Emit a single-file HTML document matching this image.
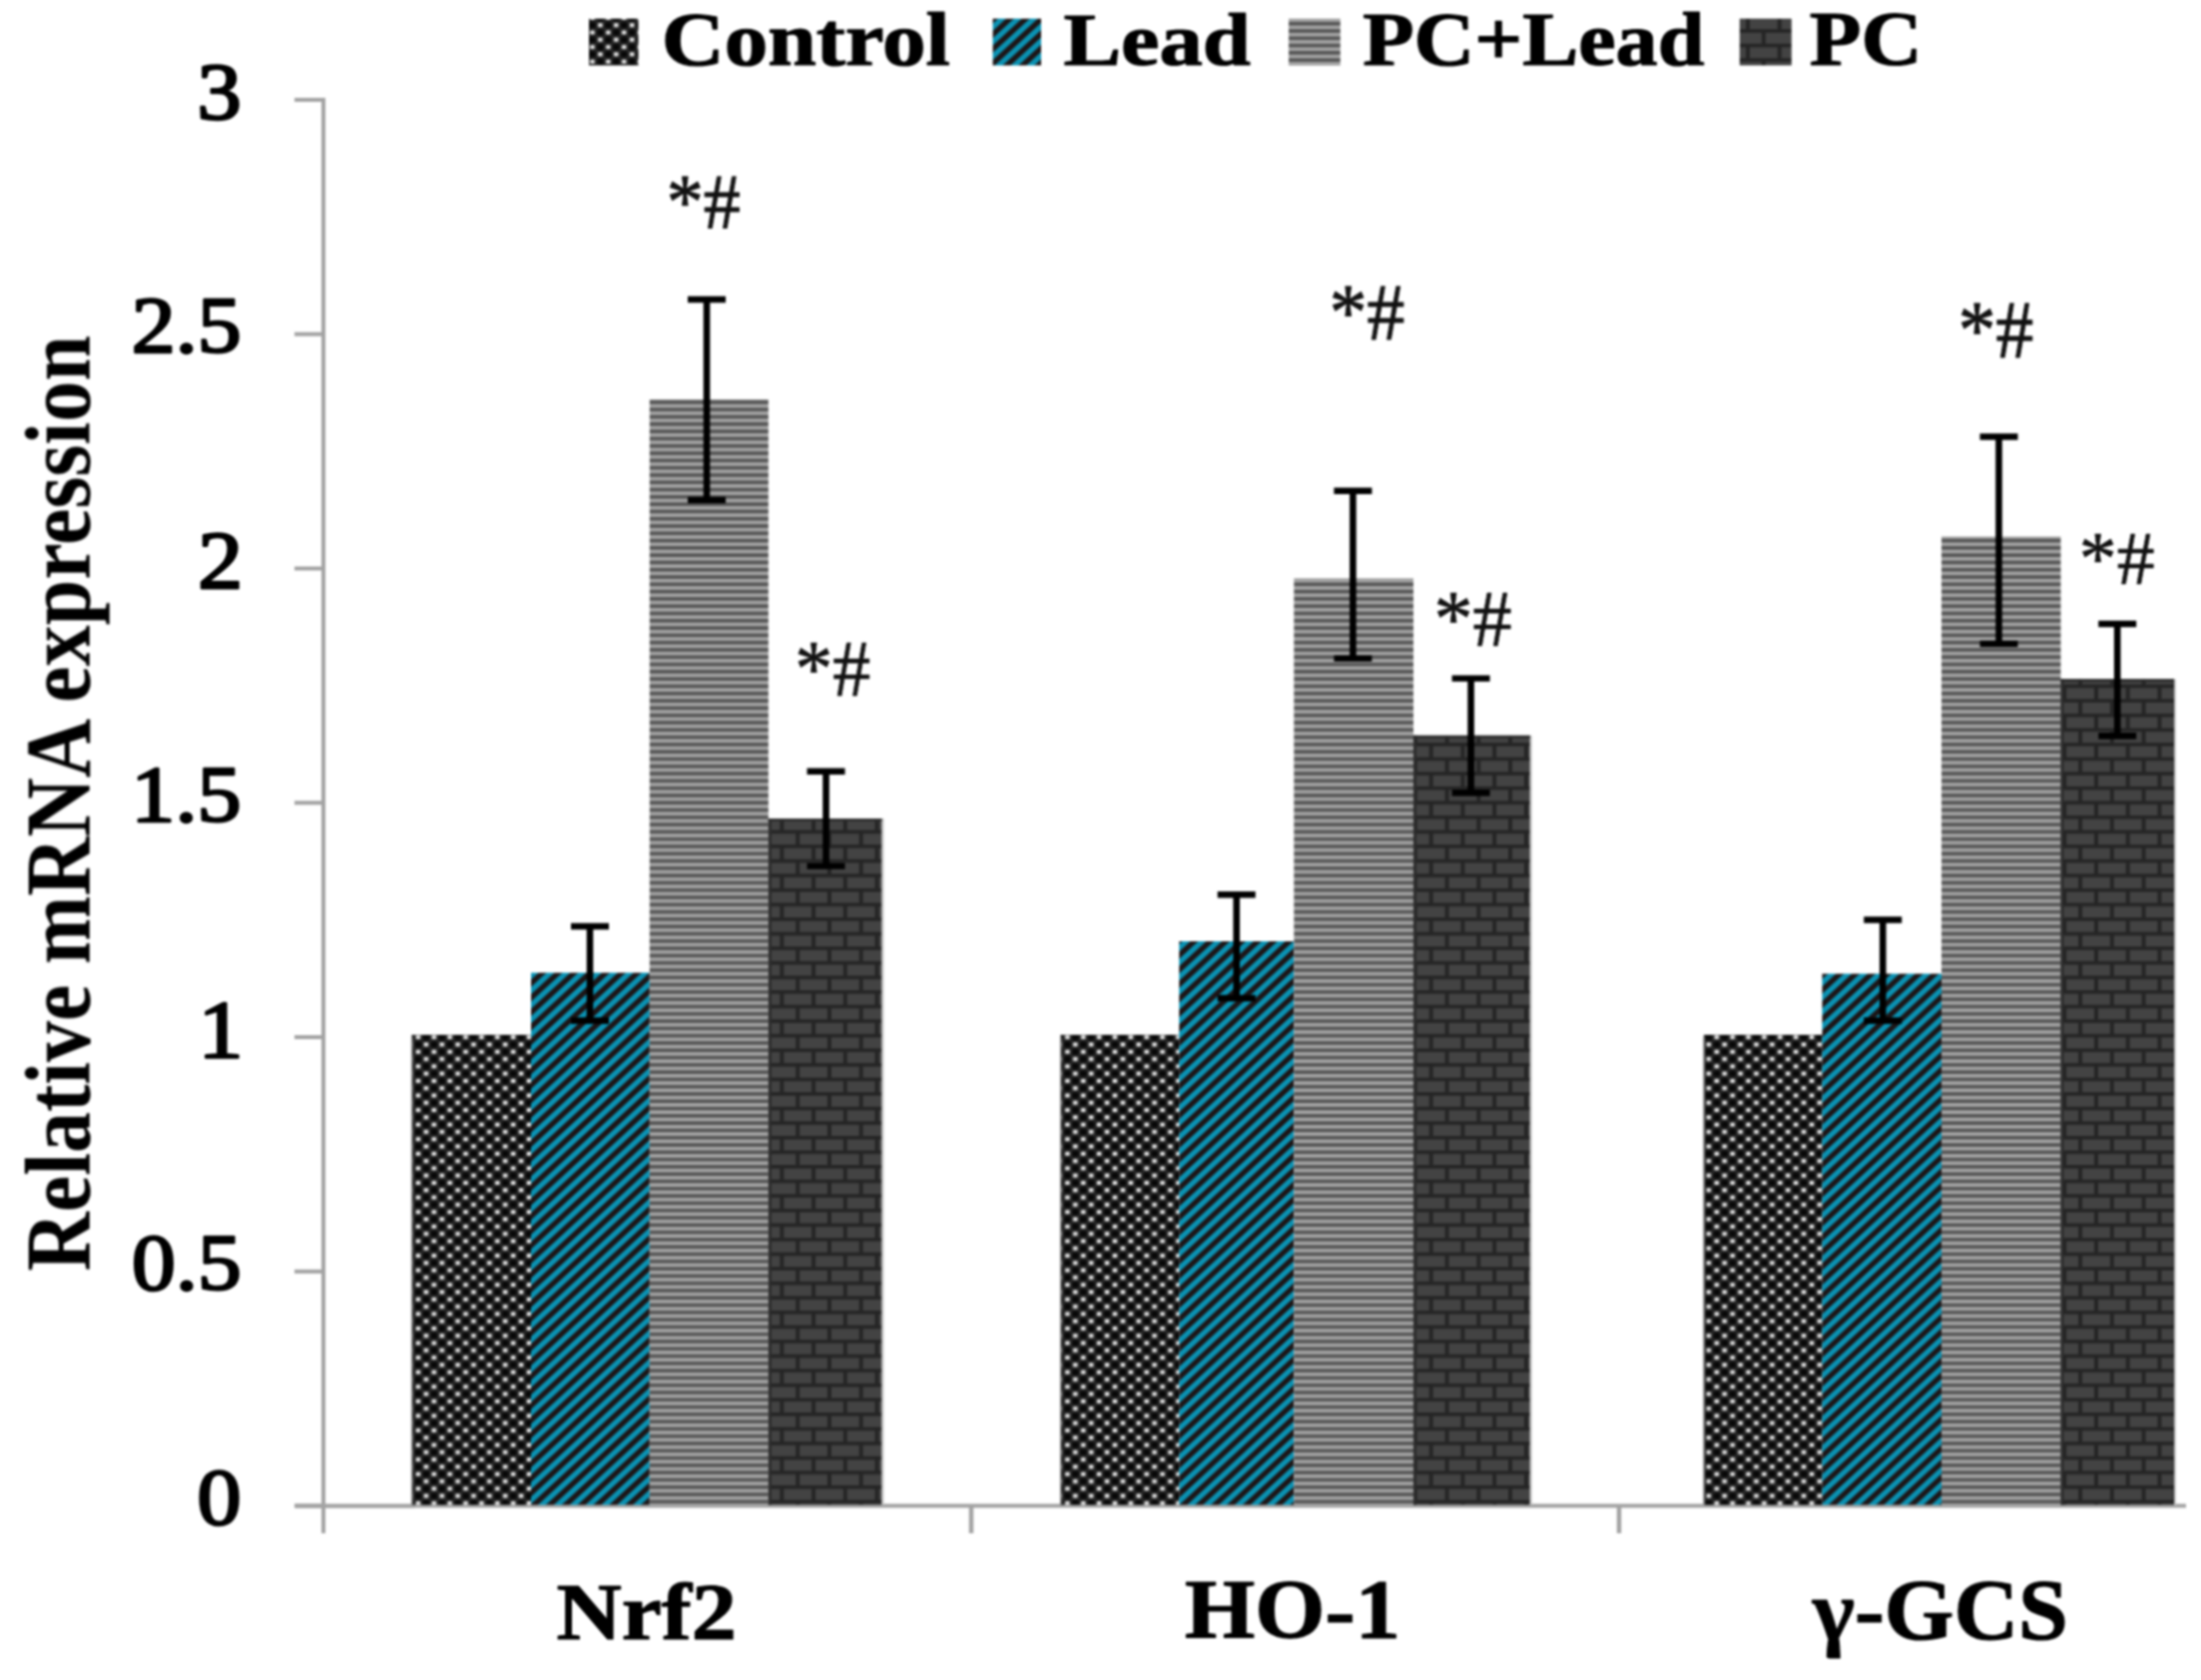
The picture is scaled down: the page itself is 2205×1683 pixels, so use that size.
<!DOCTYPE html>
<html><head><meta charset="utf-8"><title>Relative mRNA expression</title>
<style>
html,body{margin:0;padding:0;background:#fff;}
body{width:2205px;height:1683px;overflow:hidden;}
svg{display:block;font-family:"Liberation Serif","DejaVu Serif",serif;}
</style></head><body>
<svg width="2205" height="1683" viewBox="0 0 2205 1683">
<rect width="2205" height="1683" fill="#fff"/>
<g filter="url(#soft)">
<defs>
<filter id="soft" color-interpolation-filters="sRGB" x="0" y="0" width="100%" height="100%" filterUnits="userSpaceOnUse"><feGaussianBlur stdDeviation="1.3"/></filter>
<pattern id="pc" patternUnits="userSpaceOnUse" x="4.5" y="1.5" width="15.864" height="14.588">
 <rect width="15.864" height="14.588" fill="#070707"/>
 <rect x="5.249" y="0" width="1.4" height="14.588" fill="#2c2c2c"/>
 <rect x="13.181000000000001" y="0" width="1.4" height="14.588" fill="#2c2c2c"/>
 <rect x="0" y="4.770499999999999" width="15.864" height="1.4" fill="#2c2c2c"/>
 <rect x="0" y="12.0645" width="15.864" height="1.4" fill="#2c2c2c"/>
 <rect x="-0.4" y="-0.3" width="4.766" height="4.247" fill="#dcdcdc"/>
 <rect x="7.532" y="6.994" width="4.766" height="4.247" fill="#dcdcdc"/>
 <rect x="15.464" y="-0.3" width="0.4" height="4.247" fill="#dcdcdc"/>
 <rect x="-0.4" y="14.287999999999998" width="4.766" height="0.3" fill="#dcdcdc"/>
</pattern>
<pattern id="pl" patternUnits="userSpaceOnUse" x="12.9" y="0" width="15.864" height="14.588">
 <rect width="15.864" height="14.588" fill="#0a93b4"/>
 <path d="M0,0 L7.932,0 L0,7.294 Z M15.864,0 L15.864,7.294 L7.932,14.588 L0,14.588 Z" fill="#1d1516"/>
</pattern>
<pattern id="pg" patternUnits="userSpaceOnUse" x="0" y="0" width="16" height="7.294">
 <rect width="16" height="7.294" fill="#a2a2a2"/>
 <rect width="16" height="3.647" fill="#575757"/>
</pattern>
<pattern id="pp" patternUnits="userSpaceOnUse" x="19.83" y="0" width="31.728" height="29.176">
 <rect width="31.728" height="29.176" fill="#434343"/>
 <rect x="0" y="0" width="31.728" height="3.647" fill="#252525"/>
 <rect x="0" y="14.588" width="31.728" height="3.647" fill="#252525"/>
 <rect x="0" y="0" width="3.966" height="14.588" fill="#252525"/>
 <rect x="15.864" y="14.588" width="3.966" height="14.588" fill="#252525"/>
</pattern>
</defs>
<rect x="295.5" y="1506.5" width="1894.5" height="4" fill="#a3a3a3"/>
<rect x="412.5" y="1036.7" width="119.50" height="470.80" fill="url(#pc)"/>
<rect x="1062.5" y="1036.7" width="118.80" height="470.80" fill="url(#pc)"/>
<rect x="1706.8" y="1036.7" width="118.70" height="470.80" fill="url(#pc)"/>
<rect x="532.0" y="974.5" width="118.80" height="533.00" fill="url(#pl)"/>
<rect x="1181.3" y="943.0" width="115.00" height="564.50" fill="url(#pl)"/>
<rect x="1825.5" y="975.5" width="119.50" height="532.00" fill="url(#pl)"/>
<rect x="650.8" y="400.0" width="119.00" height="1107.50" fill="url(#pg)"/>
<rect x="1296.3" y="579.6" width="119.70" height="927.90" fill="url(#pg)"/>
<rect x="1945.0" y="537.5" width="119.50" height="970.00" fill="url(#pg)"/>
<rect x="769.8" y="820.0" width="113.70" height="687.50" fill="url(#pp)"/>
<rect x="1416.0" y="736.8" width="116.80" height="770.70" fill="url(#pp)"/>
<rect x="2064.5" y="680.3" width="113.50" height="827.20" fill="url(#pp)"/>
<rect x="883.5" y="820.0" width="2" height="687.50" fill="#c8c8c8"/>
<rect x="769.8" y="820.0" width="3" height="687.50" fill="#2c2c2c"/>
<rect x="1532.8" y="736.8" width="2" height="770.70" fill="#c8c8c8"/>
<rect x="1416.0" y="736.8" width="3" height="770.70" fill="#2c2c2c"/>
<rect x="2178.0" y="680.3" width="2" height="827.20" fill="#c8c8c8"/>
<rect x="2064.5" y="680.3" width="3" height="827.20" fill="#2c2c2c"/>
<rect x="411.9" y="1038.7" width="1.6" height="468.80" fill="#8c8c8c"/>
<rect x="1061.9" y="1038.7" width="1.6" height="468.80" fill="#8c8c8c"/>
<rect x="1706.2" y="1038.7" width="1.6" height="468.80" fill="#8c8c8c"/>
<rect x="769.8" y="820.0" width="113.70" height="2.6" fill="#2c2c2c"/>
<rect x="1416.0" y="736.8" width="116.80" height="2.6" fill="#2c2c2c"/>
<rect x="2064.5" y="680.3" width="113.50" height="2.6" fill="#2c2c2c"/>
<rect x="322" y="98" width="4" height="1438" fill="#a3a3a3"/>
<rect x="295" y="1506.50" width="29" height="4" fill="#a3a3a3"/>
<rect x="295" y="1271.75" width="29" height="4" fill="#a3a3a3"/>
<rect x="295" y="1037.00" width="29" height="4" fill="#a3a3a3"/>
<rect x="295" y="802.25" width="29" height="4" fill="#a3a3a3"/>
<rect x="295" y="567.50" width="29" height="4" fill="#a3a3a3"/>
<rect x="295" y="332.75" width="29" height="4" fill="#a3a3a3"/>
<rect x="295" y="98.00" width="29" height="4" fill="#a3a3a3"/>
<rect x="970.75" y="1508" width="4.5" height="28" fill="#a3a3a3"/>
<rect x="1619.75" y="1508" width="4.5" height="28" fill="#a3a3a3"/>
<rect x="295.5" y="1509" width="120" height="1.5" fill="#a3a3a3"/>
<path d="M572,928 H610 M572,1022.5 H610" stroke="#000" stroke-width="6.4" fill="none"/>
<path d="M591,928 V1022.5" stroke="#000" stroke-width="6.6" fill="none"/>
<path d="M689,300 H727 M689,501 H727" stroke="#000" stroke-width="6.4" fill="none"/>
<path d="M708,300 V501" stroke="#000" stroke-width="6.6" fill="none"/>
<path d="M808.5,772.8 H846.5 M808.5,867.6 H846.5" stroke="#000" stroke-width="6.4" fill="none"/>
<path d="M827.5,772.8 V867.6" stroke="#000" stroke-width="6.6" fill="none"/>
<path d="M1219.75,896.3 H1257.75 M1219.75,1000 H1257.75" stroke="#000" stroke-width="6.4" fill="none"/>
<path d="M1238.75,896.3 V1000" stroke="#000" stroke-width="6.6" fill="none"/>
<path d="M1336.4,491.8 H1374.4 M1336.4,659.6 H1374.4" stroke="#000" stroke-width="6.4" fill="none"/>
<path d="M1355.4,491.8 V659.6" stroke="#000" stroke-width="6.6" fill="none"/>
<path d="M1454.6,679.6 H1492.6 M1454.6,794.3 H1492.6" stroke="#000" stroke-width="6.4" fill="none"/>
<path d="M1473.6,679.6 V794.3" stroke="#000" stroke-width="6.6" fill="none"/>
<path d="M1867.25,921.5 H1905.25 M1867.25,1022.5 H1905.25" stroke="#000" stroke-width="6.4" fill="none"/>
<path d="M1886.25,921.5 V1022.5" stroke="#000" stroke-width="6.6" fill="none"/>
<path d="M1983.5,437.5 H2021.5 M1983.5,645 H2021.5" stroke="#000" stroke-width="6.4" fill="none"/>
<path d="M2002.5,437.5 V645" stroke="#000" stroke-width="6.6" fill="none"/>
<path d="M2102.2,625 H2140.2 M2102.2,737.2 H2140.2" stroke="#000" stroke-width="6.4" fill="none"/>
<path d="M2121.2,625 V737.2" stroke="#000" stroke-width="6.6" fill="none"/>
<text transform="translate(667.77,227.50) scale(0.9510,1)" font-size="77.86" font-weight="400" fill="#111" stroke="#111" stroke-width="1.0" stroke-linejoin="round">*#</text>
<text transform="translate(796.34,696.95) scale(0.9561,1)" font-size="79.39" font-weight="400" fill="#111" stroke="#111" stroke-width="0.7" stroke-linejoin="round">*#</text>
<text transform="translate(1331.69,339.90) scale(0.9409,1)" font-size="80.31" font-weight="400" fill="#111" stroke="#111" stroke-width="1.0" stroke-linejoin="round">*#</text>
<text transform="translate(1436.43,647.15) scale(0.9701,1)" font-size="80.61" font-weight="400" fill="#111" stroke="#111" stroke-width="0.7" stroke-linejoin="round">*#</text>
<text transform="translate(1961.69,358.25) scale(0.9149,1)" font-size="82.44" font-weight="400" fill="#111" stroke="#111" stroke-width="1.0" stroke-linejoin="round">*#</text>
<text transform="translate(2082.81,584.65) scale(0.9805,1)" font-size="77.18" font-weight="400" fill="#111" stroke="#111" stroke-width="0.7" stroke-linejoin="round">*#</text>
<text transform="translate(197.38,1527.40) scale(1.1050,1)" font-size="80.00" font-weight="400" fill="#000" stroke="#000" stroke-width="2.6" stroke-linejoin="round">0</text>
<text transform="translate(132.09,1292.26) scale(1.1050,1)" font-size="79.41" font-weight="400" fill="#000" stroke="#000" stroke-width="2.6" stroke-linejoin="round">0.5</text>
<text transform="translate(198.48,1058.70) scale(1.1050,1)" font-size="81.82" font-weight="400" fill="#000" stroke="#000" stroke-width="2.6" stroke-linejoin="round">1</text>
<text transform="translate(131.30,822.75) scale(1.1050,1)" font-size="80.00" font-weight="400" fill="#000" stroke="#000" stroke-width="2.6" stroke-linejoin="round">1.5</text>
<text transform="translate(198.18,589.20) scale(1.1050,1)" font-size="81.51" font-weight="400" fill="#000" stroke="#000" stroke-width="2.6" stroke-linejoin="round">2</text>
<text transform="translate(131.69,353.25) scale(1.1050,1)" font-size="79.70" font-weight="400" fill="#000" stroke="#000" stroke-width="2.6" stroke-linejoin="round">2.5</text>
<text transform="translate(197.45,118.90) scale(1.1050,1)" font-size="80.30" font-weight="400" fill="#000" stroke="#000" stroke-width="2.6" stroke-linejoin="round">3</text>
<text transform="translate(557.57,1642.00) scale(1.1280,1)" font-size="80.00" font-weight="700" fill="#000" stroke="#000" stroke-width="1.2" stroke-linejoin="round">Nrf2</text>
<text transform="translate(1187.07,1641.16) scale(1.0769,1)" font-size="83.87" font-weight="700" fill="#000" stroke="#000" stroke-width="1.2" stroke-linejoin="round">HO-1</text>
<text transform="translate(1816.07,1642.46) scale(1.0430,1)" font-size="85.83" font-weight="700" fill="#000" stroke="#000" stroke-width="1.2" stroke-linejoin="round">γ-GCS</text>
<rect x="590" y="18.7" width="49.50" height="46.8" fill="url(#pc)"/>
<rect x="994.6" y="18.7" width="48.40" height="46.8" fill="url(#pl)"/>
<rect x="1291" y="18.7" width="51.80" height="46.8" fill="url(#pg)"/>
<rect x="1742.8" y="18.7" width="52.00" height="46.8" fill="url(#pp)"/>
<text transform="translate(662.75,64.94) scale(1.1535,1)" font-size="75.60" font-weight="700" fill="#000" stroke="#000" stroke-width="1.2" stroke-linejoin="round">Control</text>
<text transform="translate(1065.38,64.95) scale(1.1523,1)" font-size="75.04" font-weight="700" fill="#000" stroke="#000" stroke-width="1.2" stroke-linejoin="round">Lead</text>
<text transform="translate(1365.20,64.94) scale(1.1124,1)" font-size="75.60" font-weight="700" fill="#000" stroke="#000" stroke-width="1.2" stroke-linejoin="round">PC+Lead</text>
<text transform="translate(1812.66,64.91) scale(1.0697,1)" font-size="79.26" font-weight="700" fill="#000" stroke="#000" stroke-width="1.2" stroke-linejoin="round">PC</text>
<text transform="translate(89.70,1273.44) rotate(-90) scale(0.8913,1)" font-size="92.06" font-weight="700" fill="#000">Relative mRNA expression</text>
</g>
</svg>
</body></html>
